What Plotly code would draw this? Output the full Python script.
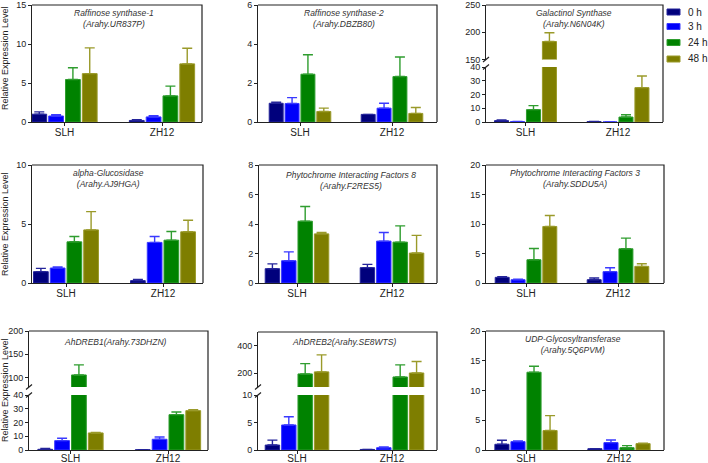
import plotly.graph_objects as go

# ---------------- data ----------------
categories = ["SLH", "ZH12"]
time_points = ["0 h", "3 h", "24 h", "48 h"]

# rows: 0 h, 3 h, 24 h, 48 h ; columns: SLH, ZH12
raf1_mean = [[1.00, 0.20], [0.77, 0.65], [5.45, 3.35], [6.20, 7.45]]
raf1_err = [[0.30, 0.10], [0.15, 0.15], [1.50, 1.25], [3.30, 2.00]]

raf2_mean = [[0.96, 0.39], [0.95, 0.71], [2.45, 2.33], [0.54, 0.44]]
raf2_err = [[0.05, 0.00], [0.30, 0.25], [1.00, 1.00], [0.17, 0.30]]

gols_mean = [[1.0, 0.3], [0.3, 0.05], [9.0, 3.6], [183.0, 25.0]]
gols_err = [[0.5, 0.1], [0.1, 0.0], [2.9, 1.7], [16.0, 8.5]]

agluc_mean = [[0.96, 0.20], [1.27, 3.44], [3.49, 3.63], [4.50, 4.34]]
agluc_err = [[0.28, 0.11], [0.08, 0.50], [0.45, 0.73], [1.55, 0.98]]

pif8_mean = [[0.97, 1.04], [1.51, 2.84], [4.19, 2.77], [3.33, 2.03]]
pif8_err = [[0.33, 0.22], [0.60, 0.58], [1.00, 1.10], [0.09, 1.20]]

pif3_mean = [[0.96, 0.56], [0.56, 1.92], [3.94, 5.80], [9.58, 2.82]]
pif3_err = [[0.10, 0.28], [0.10, 0.67], [1.90, 1.80], [1.86, 0.45]]

dreb1_mean = [[0.5, 0.2], [6.8, 7.8], [105.8, 25.7], [12.4, 28.6]]
dreb1_err = [[0.7, 0.1], [1.7, 1.7], [21.7, 1.9], [0.4, 0.7]]

dreb2_mean = [[0.9, 0.1], [4.55, 0.42], [195.0, 173.0], [210.0, 202.0]]
dreb2_err = [[0.9, 0.0], [1.5, 0.13], [75.0, 88.0], [124.0, 83.0]]

udp_mean = [[0.96, 0.22], [1.41, 1.24], [13.07, 0.39], [3.27, 1.07]]
udp_err = [[0.67, 0.00], [0.10, 0.45], [1.00, 0.34], [2.50, 0.06]]

gene_titles = [
    "Raffinose synthase-1<br>(Arahy.UR837P)",
    "Raffinose synthase-2<br>(Arahy.DBZB80)",
    "Galactinol Synthase<br>(Arahy.N6N04K)",
    "alpha-Glucosidase<br>(Arahy.AJ9HGA)",
    "Phytochrome Interacting Factors 8<br>(Arahy.F2RES5)",
    "Phytochrome Interacting Factors 3<br>(Arahy.SDDU5A)",
    "AhDREB1(Arahy.73DHZN)",
    "AhDREB2(Arahy.SE8WTS)",
    "UDP-Glycosyltransferase<br>(Arahy.5Q6PVM)",
]
y_axis_label = "Relative Expression Level"

raf1_ticks = [0, 5, 10, 15]
raf2_ticks = [0, 2, 4, 6]
gols_ticks_low = [0, 10, 20, 30, 40]
gols_ticks_high = [150, 200, 250]
agluc_ticks = [0, 5, 10]
pif8_ticks = [0, 2, 4, 6, 8]
pif3_ticks = [0, 5, 10, 15, 20]
dreb1_ticks_low = [0, 10, 20, 30, 40]
dreb1_ticks_high = [100, 150, 200]
dreb2_ticks_low = [0, 5, 10]
dreb2_ticks_high = [200, 400]
udp_ticks = [0, 5, 10, 15, 20]

# ---------------- style / layout ----------------
W, H = 708, 463
FONT = "Liberation Sans, Arial, sans-serif"
AX = "#222222"
bar_colors = ["#00007c", "#0000fa", "#008200", "#7e7e00"]
edge_colors = ["#24249a", "#3a3aff", "#2f9d2f", "#9a9a2a"]


def fx(p):
    return p / W


def fy(p):
    return 1 - p / H


# panel geometry in pixels: left, right, SLH tick, ZH12 tick, segments (range, ticks, top, bottom),
# title x, title y, x tick-label standoff
panels = [
    dict(m=raf1_mean, e=raf1_err, l=32, r=202, t1=64.5, t2=162,
         segs=[([0, 15], raf1_ticks, 5, 122)], tx=114, ty=18, so=-2),
    dict(m=raf2_mean, e=raf2_err, l=258, r=437, t1=300, t2=392,
         segs=[([0, 6], raf2_ticks, 5, 122)], tx=344, ty=18, so=-2),
    dict(m=gols_mean, e=gols_err, l=486, r=663, t1=525.5, t2=618,
         segs=[([0, 40], gols_ticks_low, 67, 122), ([150, 250], gols_ticks_high, 5, 59.5)], tx=574, ty=18, so=-2),
    dict(m=agluc_mean, e=agluc_err, l=32, r=203, t1=66, t2=163,
         segs=[([0, 10], agluc_ticks, 165, 283)], tx=108, ty=179, so=-2),
    dict(m=pif8_mean, e=pif8_err, l=259, r=437, t1=297, t2=392,
         segs=[([0, 8], pif8_ticks, 165, 283)], tx=351, ty=180, so=-2),
    dict(m=pif3_mean, e=pif3_err, l=486, r=664, t1=526, t2=618,
         segs=[([0, 20], pif3_ticks, 165, 283)], tx=575, ty=179, so=-2),
    dict(m=dreb1_mean, e=dreb1_err, l=29, r=208, t1=70.5, t2=168,
         segs=[([0, 40], dreb1_ticks_low, 395, 450), ([80, 200], dreb1_ticks_high, 331, 387)], tx=115, ty=342, so=-4),
    dict(m=dreb2_mean, e=dreb2_err, l=258, r=437, t1=297, t2=392,
         segs=[([0, 10], dreb2_ticks_low, 395, 450), ([100, 500], dreb2_ticks_high, 332, 387)], tx=344, ty=342, so=-4),
    dict(m=udp_mean, e=udp_err, l=486, r=664, t1=526, t2=619,
         segs=[([0, 20], udp_ticks, 331, 450)], tx=573, ty=344, so=-4),
]

fig = go.Figure()
layout = {}
shapes = []
annotations = []

for i, p in enumerate(panels, start=1):
    xname = "x" if i == 1 else f"x{i}"
    xkey = "xaxis" if i == 1 else f"xaxis{i}"
    d = p["t2"] - p["t1"]
    xr = [-(p["t1"] - p["l"]) / d, 1 + (p["r"] - p["t2"]) / d]
    for k, (rng, tv, top, bot) in enumerate(p["segs"]):
        yi = i if k == 0 else 9 + i
        yname = "y" if yi == 1 else f"y{yi}"
        ykey = "yaxis" if yi == 1 else f"yaxis{yi}"
        layout[ykey] = dict(
            domain=[fy(bot), fy(top)], anchor=xname, range=rng,
            tickvals=tv, showgrid=False, zeroline=False, showline=True,
            linecolor=AX, linewidth=1, ticks="outside", ticklen=3,
            tickwidth=1, tickcolor=AX, tickfont=dict(family=FONT, size=9, color=AX),
            fixedrange=True, automargin=False, ticklabeloverflow="allow",
        )
        for s in range(4):
            fig.add_trace(go.Bar(
                x=categories, y=p["m"][s], name=time_points[s],
                xaxis=xname, yaxis=yname, showlegend=False,
                marker=dict(color=bar_colors[s], line=dict(color=edge_colors[s], width=1)),
                error_y=dict(type="data", symmetric=False, array=p["e"][s],
                             arrayminus=[0, 0], color=edge_colors[s],
                             thickness=1.4, width=5),
            ))
    layout[xkey] = dict(
        domain=[fx(p["l"]), fx(p["r"])], anchor=("y" if i == 1 else f"y{i}"),
        type="category", range=xr, showgrid=False, zeroline=False,
        showline=True, linecolor=AX, linewidth=1, ticks="outside", ticklen=3,
        tickwidth=1, tickcolor=AX, tickfont=dict(family=FONT, size=10, color=AX),
        fixedrange=True, automargin=False, ticklabeloverflow="allow",
        ticklabelstandoff=p["so"],
    )
    top_px = min(s[2] for s in p["segs"])
    bot_px = max(s[3] for s in p["segs"])
    shapes.append(dict(
        type="path", xref="paper", yref="paper",
        path=f"M{fx(p['l'])},{fy(top_px)} L{fx(p['r'])},{fy(top_px)} L{fx(p['r'])},{fy(bot_px)}",
        line=dict(color=AX, width=1.2),
    ))
    if len(p["segs"]) > 1:
        for yb in (p["segs"][0][2], p["segs"][1][3]):
            shapes.append(dict(
                type="line", xref="paper", yref="paper",
                x0=fx(p["l"] - 3), y0=fy(yb + 2.5), x1=fx(p["l"] + 3), y1=fy(yb - 2.5),
                line=dict(color=AX, width=1.2),
            ))
    annotations.append(dict(
        text=gene_titles[i - 1], xref="paper", yref="paper",
        x=fx(p["tx"]), y=fy(p["ty"]), xanchor="center", yanchor="middle",
        showarrow=False, align="center",
        font=dict(family=FONT, size=8.5, color="#333333", style="italic"),
    ))

# y-axis titles for the left column
for yc in (58, 224, 390):
    annotations.append(dict(
        text=y_axis_label, xref="paper", yref="paper", x=fx(5), y=fy(yc),
        xanchor="center", yanchor="middle", textangle=-90, showarrow=False,
        font=dict(family=FONT, size=9, color=AX),
    ))

# legend
legend_y = [12, 26.5, 42.5, 59]
for s in range(4):
    shapes.append(dict(
        type="rect", xref="paper", yref="paper",
        x0=fx(667), x1=fx(680), y0=fy(legend_y[s] + 3), y1=fy(legend_y[s] - 3),
        fillcolor=bar_colors[s], line=dict(color=edge_colors[s], width=1),
    ))
    annotations.append(dict(
        text=time_points[s], xref="paper", yref="paper", x=fx(685.5), y=fy(legend_y[s]),
        xanchor="left", yanchor="middle", showarrow=False,
        font=dict(family=FONT, size=10, color=AX),
    ))

fig.update_layout(
    width=W, height=H, margin=dict(l=0, r=0, t=0, b=0, autoexpand=False),
    paper_bgcolor="white", plot_bgcolor="white",
    barmode="group", bargap=0.31, bargroupgap=0.12,
    showlegend=False, shapes=shapes, annotations=annotations,
    font=dict(family=FONT),
    **layout,
)

fig.write_html(
    "out.html",
    config={"displayModeBar": False},
    post_script="document.body.style.margin='0px';document.body.style.overflow='hidden';",
)
